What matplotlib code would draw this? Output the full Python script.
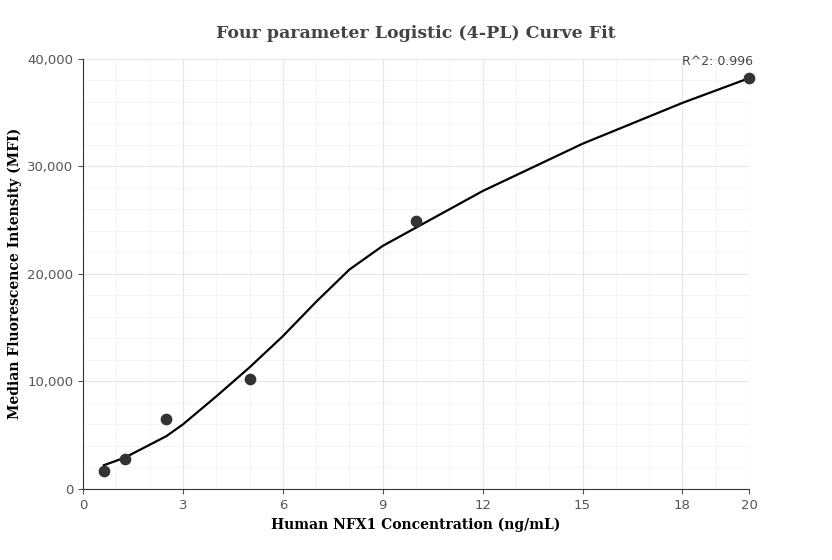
import matplotlib
matplotlib.use("Agg")
import matplotlib.pyplot as plt
from matplotlib.ticker import MultipleLocator, FuncFormatter, FixedLocator

conc = [0.625, 1.25, 2.5, 5, 10, 20]
mfi = [1650, 2750, 6500, 10200, 24900, 38200]
curve_x = [0.625, 1.25, 2.0, 2.5, 3, 4, 5, 6, 7, 8, 9, 10, 12, 15, 18, 20]
curve_y = [2200, 2900, 4100, 4900, 6000, 8600, 11300, 14200, 17400, 20400, 22600, 24300, 27700, 32100, 35900, 38200]
x_ticks = [0, 3, 6, 9, 12, 15, 18, 20]
r2_label = "R^2: 0.996"

fig = plt.figure(figsize=(8.32, 5.6), dpi=100)
ax = fig.add_axes([0.0998, 0.127, 0.8005, 0.768])
ax.plot(curve_x, curve_y, color="black", lw=1.6, zorder=2)
ax.scatter(conc, mfi, s=55, color="#333333", zorder=3, clip_on=False)
ax.annotate(r2_label, (conc[-1], mfi[-1]), xytext=(3, 7), textcoords="offset points",
            ha="right", va="bottom", fontsize=9, color="#444444")
ax.set_xlim(0, 20)
ax.set_ylim(0, 40000)
ax.xaxis.set_major_locator(FixedLocator(x_ticks))
ax.xaxis.set_minor_locator(MultipleLocator(1))
ax.yaxis.set_major_locator(MultipleLocator(10000))
ax.yaxis.set_minor_locator(MultipleLocator(2000))
ax.yaxis.set_major_formatter(FuncFormatter(lambda v, p: f"{int(v):,}"))
ax.grid(which="major", color="#e6e6e6", lw=0.8)
ax.grid(which="minor", color="#f3f3f3", lw=0.6)
ax.set_axisbelow(True)
for s in ["top", "right"]:
    ax.spines[s].set_visible(False)
for s in ["left", "bottom"]:
    ax.spines[s].set_color("#333333")
ax.tick_params(which="both", colors="#555555", labelsize=9.5)
ax.tick_params(which="minor", length=0)
ax.set_xlabel("Human NFX1 Concentration (ng/mL)", family="DejaVu Serif", fontweight="bold", fontsize=10)
ax.set_ylabel("Median Fluorescence Intensity (MFI)", family="DejaVu Serif", fontweight="bold", fontsize=10)
fig.suptitle("Four parameter Logistic (4-PL) Curve Fit", x=0.5, y=0.955, family="DejaVu Serif",
             fontweight="bold", fontsize=12.5, color="#444444")
fig.savefig("out.png", dpi=100)
